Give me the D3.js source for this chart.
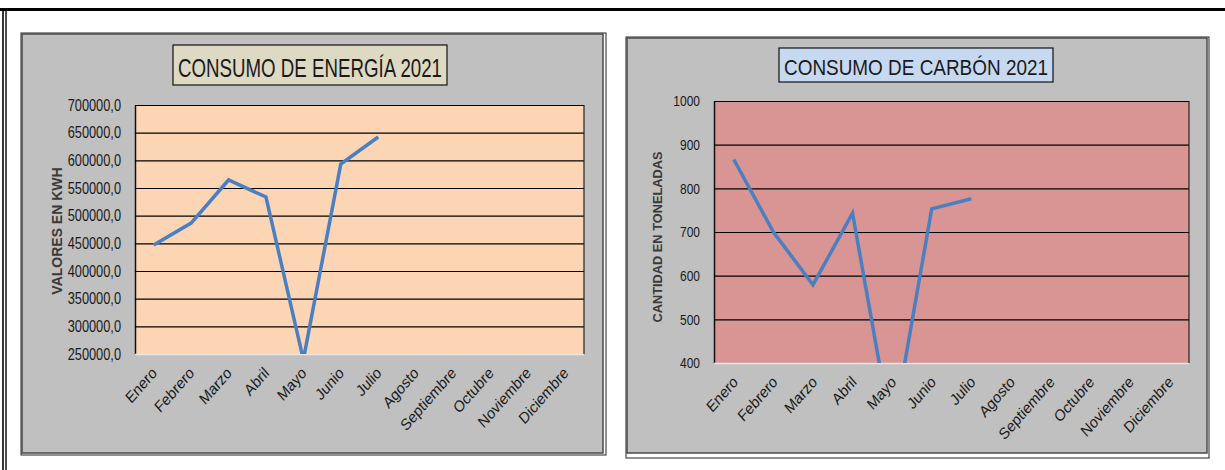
<!DOCTYPE html>
<html>
<head>
	<meta charset="utf-8">
	<title>Consumo 2021</title>
	<style>
		body {
			margin: 0;
			background-color: #fff;
		}
		svg {
			display: block;
		}
		text {
			font-family: "Liberation Sans", Arial, sans-serif;
			fill: #1a1a1a;
		}
		.axistitle {
			font-weight: bold;
			fill: #3a3a3a;
		}
	</style>
</head>
<body>
	<div id="drawing"></div>

	<script src="https://cdnjs.cloudflare.com/ajax/libs/d3/7.8.5/d3.min.js"></script>
	<script>
	// Datos
	var meses = ["Enero", "Febrero", "Marzo", "Abril", "Mayo", "Junio", "Julio",
		"Agosto", "Septiembre", "Octubre", "Noviembre", "Diciembre"]

	var energia      = [447000, 486700, 564500, 533700, 240000, 593400, 642200]
	var energiaTicks = [250000, 300000, 350000, 400000, 450000, 500000, 550000, 600000, 650000, 700000]

	var carbon      = [866, 700, 579, 743, 235, 753, 776]
	var carbonTicks = [400, 500, 600, 700, 800, 900, 1000]

	// Canvas
	var canvasWidth  = 1225,
		canvasHeight = 470,
		squish       = 0.8 // the screenshot text is narrow, like Calibri

	var svg = d3.select("#drawing").append("svg")
		.attr("width", canvasWidth)
		.attr("height", canvasHeight)

	// Page frame (top and left black borders)
	svg.append("line").attr("x1", 0).attr("x2", canvasWidth).attr("y1", 9.5).attr("y2", 9.5)
		.attr("stroke", "#000").attr("stroke-width", 3)
	svg.append("line").attr("x1", 3).attr("x2", 3).attr("y1", 8).attr("y2", canvasHeight)
		.attr("stroke", "#000").attr("stroke-width", 1.6)
	svg.append("line").attr("x1", 6).attr("x2", 6).attr("y1", 8).attr("y2", canvasHeight)
		.attr("stroke", "#000").attr("stroke-width", 1.4)

	var drawChart = function(cfg){
		var g = svg.append("g")

		// Outer frame + grey chart area
		g.append("rect")
			.attr("x", cfg.frame[0]).attr("y", cfg.frame[1])
			.attr("width", cfg.frame[2]).attr("height", cfg.frame[3])
			.attr("fill", "#fff").attr("stroke", "#222").attr("stroke-width", 1)
		g.append("rect")
			.attr("x", cfg.area[0]).attr("y", cfg.area[1])
			.attr("width", cfg.area[2]).attr("height", cfg.area[3])
			.attr("fill", "#c0c0c0").attr("stroke", "#4a4a4a").attr("stroke-width", 1.5)

		var px = cfg.plot[0], py = cfg.plot[1], pw = cfg.plot[2], ph = cfg.plot[3]

		// Scales
		var x = d3.scaleBand().domain(meses).range([px, px + pw])
		var y = d3.scaleLinear().domain(cfg.domain).range([py + ph, py])

		// Plot area
		g.append("rect")
			.attr("x", px).attr("y", py).attr("width", pw).attr("height", ph)
			.attr("fill", cfg.plotFill)

		// Y axis with gridlines
		var yAxis = g.append("g")
			.attr("transform", "translate(" + px + ",0)")
			.call(d3.axisLeft(y)
				.tickValues(cfg.ticks)
				.tickSizeInner(-pw)
				.tickSizeOuter(0)
				.tickFormat(cfg.format))
		yAxis.select(".domain").attr("stroke", "#111").attr("stroke-width", 1.5)
		yAxis.selectAll(".tick line").attr("stroke", "#000").attr("stroke-width", 1.2)
		yAxis.selectAll(".tick text")
			.attr("x", 0)
			.attr("transform", "translate(-14,0) scale(" + squish + ",1)")
			.style("font-size", cfg.tickSize + "px")
			.attr("fill", "#1a1a1a")
		// bottom tick line is the light category axis
		yAxis.selectAll(".tick").filter(function(d){ return d === cfg.domain[0] })
			.select("line").attr("stroke", "#e6e6e6").attr("stroke-width", 1.5)

		// Right border of plot area
		g.append("line")
			.attr("x1", px + pw).attr("x2", px + pw).attr("y1", py).attr("y2", py + ph)
			.attr("stroke", "#222").attr("stroke-width", 1.2)

		// X axis labels
		var xAxis = g.append("g")
			.attr("transform", "translate(0," + (py + ph) + ")")
			.call(d3.axisBottom(x).tickSize(0).tickPadding(0))
		xAxis.select(".domain").remove()
		xAxis.selectAll(".tick text")
			.attr("text-anchor", "end")
			.attr("y", 0).attr("dy", 0)
			.attr("transform", "translate(" + cfg.labelDx + "," + cfg.labelDy + ") scale(0.88,1) rotate(-45)")
			.style("font-size", cfg.labelSize + "px")
			.attr("fill", "#1a1a1a")

		// Data line
		var clipId = "clip-" + cfg.id
		g.append("clipPath").attr("id", clipId)
			.append("rect").attr("x", px).attr("y", py).attr("width", pw).attr("height", ph)

		var line = d3.line()
			.x(function(d, i){ return x(meses[i]) + x.bandwidth() / 2 })
			.y(function(d){ return y(d) })

		g.append("path")
			.datum(cfg.values)
			.attr("clip-path", "url(#" + clipId + ")")
			.attr("d", line)
			.attr("fill", "none")
			.attr("stroke", "#4a7fc1")
			.attr("stroke-width", 3.5)
			.attr("stroke-linejoin", "miter")

		// Axis title
		g.append("text")
			.attr("class", "axistitle")
			.attr("transform", "translate(" + cfg.yTitle[0] + "," + cfg.yTitle[1] + ") rotate(-90)")
			.attr("text-anchor", "middle")
			.attr("dominant-baseline", "central")
			.style("font-size", cfg.yTitleSize + "px")
			.text(cfg.yTitleText)

		// Chart title box
		var tb = cfg.titleBox
		g.append("rect")
			.attr("x", tb[0]).attr("y", tb[1]).attr("width", tb[2]).attr("height", tb[3])
			.attr("fill", cfg.titleFill).attr("stroke", "#111").attr("stroke-width", 1.2)
		g.append("text")
			.attr("x", tb[0] + tb[2] / 2)
			.attr("y", cfg.titleBaseline)
			.attr("text-anchor", "middle")
			.attr("textLength", cfg.titleLength)
			.attr("lengthAdjust", "spacingAndGlyphs")
			.style("font-size", cfg.titleSize + "px")
			.text(cfg.title)
	}

	// Energy chart
	drawChart({
		id: "energia",
		frame: [21, 33, 585, 422],
		area: [22, 34, 581, 419],
		plot: [135, 105, 449, 249],
		domain: [250000, 700000],
		ticks: energiaTicks,
		format: function(d){ return d3.format(".1f")(d).replace(".", ",") },
		values: energia,
		plotFill: "#fcd5b5",
		tickSize: 16,
		labelSize: 16,
		labelDx: 4,
		labelDy: 20,
		yTitle: [57, 231],
		yTitleSize: 14,
		yTitleText: "VALORES EN KWH",
		titleBox: [173, 45, 274, 40],
		titleFill: "#ddd9c3",
		titleBaseline: 77,
		titleLength: 264,
		titleSize: 25,
		title: "CONSUMO DE ENERGÍA 2021"
	})

	// Coal chart
	drawChart({
		id: "carbon",
		frame: [626, 37, 583, 421],
		area: [627, 38, 580, 415],
		plot: [714, 101, 475, 262],
		domain: [400, 1000],
		ticks: carbonTicks,
		format: d3.format("d"),
		values: carbon,
		plotFill: "#d99594",
		tickSize: 15,
		labelSize: 16,
		labelDx: 5,
		labelDy: 20,
		yTitle: [657, 237],
		yTitleSize: 12.8,
		yTitleText: "CANTIDAD EN TONELADAS",
		titleBox: [779, 48, 274, 34],
		titleFill: "#c6d9f1",
		titleBaseline: 75,
		titleLength: 264,
		titleSize: 22,
		title: "CONSUMO DE CARBÓN 2021"
	})
	</script>
</body>
</html>
